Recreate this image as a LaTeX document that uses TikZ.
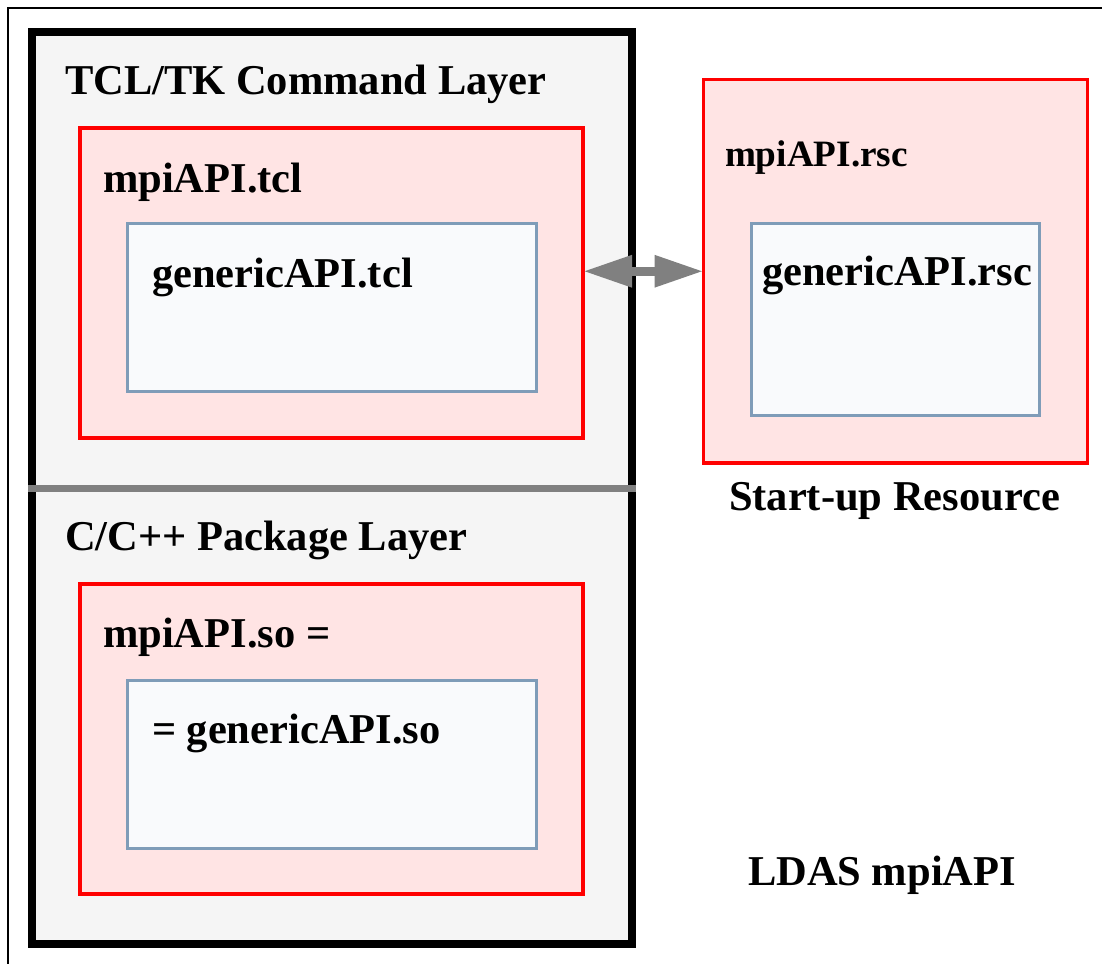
\documentclass[tikz,border=0pt]{standalone}
\usepackage{fontspec}
\setmainfont{Liberation Serif}
\usetikzlibrary{arrows.meta}
\definecolor{panelgray}{HTML}{F5F5F5}
\definecolor{pinkfill}{HTML}{FFE4E4}
\definecolor{redline}{HTML}{FF0000}
\definecolor{blueline}{HTML}{7F9CB8}
\definecolor{bluefill}{HTML}{F9FAFC}
\definecolor{midgray}{HTML}{808080}
\tikzset{
  redbox/.style={draw=redline, fill=pinkfill, line width=3.5pt, inner sep=0pt, outer sep=0pt, rectangle},
  bluebox/.style={draw=blueline, fill=bluefill, line width=3pt, inner sep=0pt, outer sep=0pt, rectangle},
  lbl/.style={anchor=base west, inner sep=0pt, outer sep=0pt, font=\fontsize{42.5pt}{51pt}\selectfont\bfseries},
  lblsmall/.style={anchor=base west, inner sep=0pt, outer sep=0pt, font=\fontsize{37.2pt}{45pt}\selectfont\bfseries},
}
\begin{document}
\begin{tikzpicture}[x=1pt, y=-1pt]
\useasboundingbox (0,0) rectangle (1102,963);
% outer frame (partly cropped)
\draw[line width=2pt] (8,990) -- (8,8) -- (1130,8);
% main layer panel
\node[draw=black, fill=panelgray, line width=8pt, inner sep=0pt, outer sep=0pt, minimum width=600pt, minimum height=912pt] (panel) at (332,488) {};
\draw[midgray, line width=7pt] (28,488) -- (636,488);
% labels of layers
\node[lbl] (tcltk) at (65,95) {TCL/TK Command Layer};
\node[lbl] (cpp) at (65,550) {C/C++ Package Layer};
% tcl boxes
\node[redbox, minimum width=503pt, minimum height=310pt] (tcl) at (331.5,283) {};
\node[lbl] (tcllbl) at (103,192) {mpiAPI.tcl};
\node[bluebox, minimum width=409pt, minimum height=168pt] (gtcl) at (331.5,307) {};
\node[lbl] (gtcllbl) at (152,287) {genericAPI.tcl};
% so boxes
\node[redbox, minimum width=503pt, minimum height=310pt] (so) at (331.5,739) {};
\node[lbl] (solbl) at (103,647) {mpiAPI.so =};
\node[bluebox, minimum width=409pt, minimum height=168pt] (gso) at (331.5,764) {};
\node[lbl] (gsolbl) at (152,743) {= genericAPI.so};
% resource boxes
\node[redbox, minimum width=384pt, minimum height=383.5pt] (rsc) at (895.5,271.25) {};
\node[lblsmall] (rsclbl) at (725,166) {mpiAPI.rsc};
\node[bluebox, minimum width=288pt, minimum height=191.5pt] (grsc) at (895.5,319.25) {};
\node[lbl] (grsclbl) at (762,285) {genericAPI.rsc};
\node[lbl] (startup) at (729,510) {Start-up Resource};
\node[lbl] (ldas) at (748,885) {LDAS mpiAPI};
% double arrow
\draw[midgray, line width=9pt, {Triangle[length=49pt,width=30pt]}-{Triangle[length=49pt,width=30pt]}] (tcl.east |- rsc.west) -- (rsc.west);
\end{tikzpicture}
\end{document}
